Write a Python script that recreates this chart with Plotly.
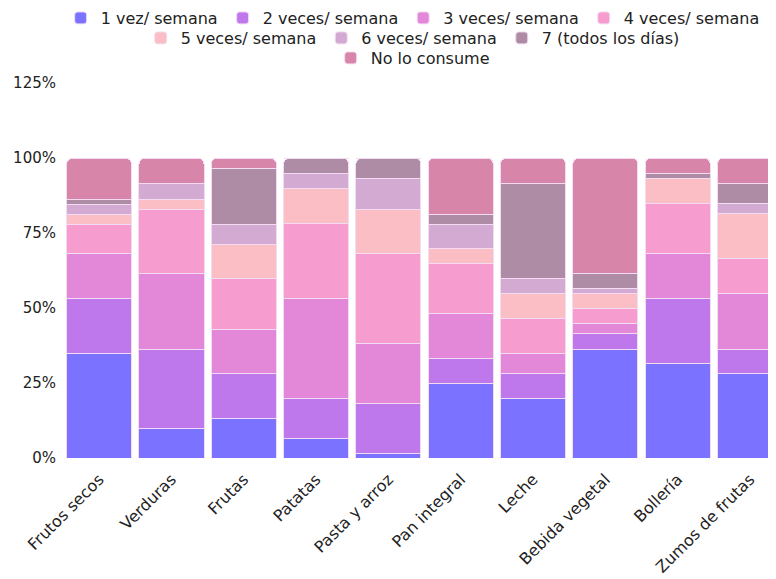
import plotly.graph_objects as go

categories = ["Frutos secos", "Verduras", "Frutas", "Patatas", "Pasta y arroz",
              "Pan integral", "Leche", "Bebida vegetal", "Bollería", "Zumos de frutas"]

series_names = ["1 vez/ semana", "2 veces/ semana", "3 veces/ semana", "4 veces/ semana",
                "5 veces/ semana", "6 veces/ semana", "7 (todos los días)", "No lo consume"]

vez1 = [34.9, 9.9, 13.2, 6.6, 1.6, 24.9, 19.7, 36.3, 31.4, 28.1]
veces2 = [18.2, 26.4, 15.0, 13.2, 16.6, 8.2, 8.5, 5.1, 21.7, 8.2]
veces3 = [15.0, 25.3, 14.8, 33.3, 20.0, 15.0, 6.7, 3.5, 15.0, 18.5]
veces4 = [9.9, 21.4, 16.7, 25.0, 29.9, 16.6, 11.5, 4.9, 16.7, 11.6]
veces5 = [3.3, 3.3, 11.6, 11.7, 14.9, 5.0, 8.4, 5.0, 8.3, 15.0]
veces6 = [3.3, 5.1, 6.7, 5.0, 10.1, 8.3, 5.0, 1.6, 0.0, 3.4]
veces7 = [1.6, 0.0, 18.6, 5.2, 6.9, 3.3, 31.6, 5.0, 1.7, 6.6]
no_consume = [13.7, 8.6, 3.4, 0.0, 0.0, 18.7, 8.6, 38.6, 5.2, 8.6]

colors = ["#7b73ff", "#bf78ec", "#e388d9", "#f79ccf", "#fcbec5", "#d2aad2", "#ae8ca5", "#d786a9"]

tick_vals = [0, 25, 50, 75, 100, 125]
tick_text = ["0%", "25%", "50%", "75%", "100%", "125%"]

all_series = [vez1, veces2, veces3, veces4, veces5, veces6, veces7, no_consume]
legend_rows = ["legend", "legend", "legend", "legend", "legend2", "legend2", "legend2", "legend3"]

FONT = "DejaVu Sans"
TXT = "#222222"
H = 579

fig = go.Figure()
for name, vals, col, lg in zip(series_names, all_series, colors, legend_rows):
    fig.add_trace(go.Bar(
        x=list(range(len(categories))), y=vals, name=name,
        marker=dict(color=col, line=dict(color="#f3dcf3", width=1)),
        hoverinfo="skip", legend=lg,
    ))

def leg(yc):
    return dict(orientation="h", x=0.485, xanchor="center", xref="paper",
                y=1 - yc / H, yanchor="middle", yref="container",
                font=dict(family=FONT, size=16, color=TXT),
                traceorder="normal", itemwidth=30, tracegroupgap=0,
                bgcolor="rgba(0,0,0,0)")

fig.update_layout(
    width=776, height=H,
    barmode="stack", bargap=0.1, barcornerradius=6,
    plot_bgcolor="white", paper_bgcolor="white",
    margin=dict(l=55, r=0, t=75, b=129, autoexpand=False),
    font=dict(family=FONT, size=15, color=TXT),
    showlegend=True,
    legend=leg(10), legend2=leg(30), legend3=leg(50),
    xaxis=dict(tickmode="array", tickvals=list(range(len(categories))), ticktext=categories,
               tickangle=-45, range=[-0.5, 9.47], showgrid=False, zeroline=False,
               showline=False, ticks="", automargin=False, ticklabelstandoff=8,
               tickfont=dict(family=FONT, size=16, color=TXT)),
    yaxis=dict(range=[0, 125], tickmode="array", tickvals=tick_vals, ticktext=tick_text,
               showgrid=False, zeroline=False, showline=False, ticks="", automargin=False,
               ticklabelstandoff=6,
               tickfont=dict(family=FONT, size=15, color=TXT)),
)

fig.write_html("out.html")
